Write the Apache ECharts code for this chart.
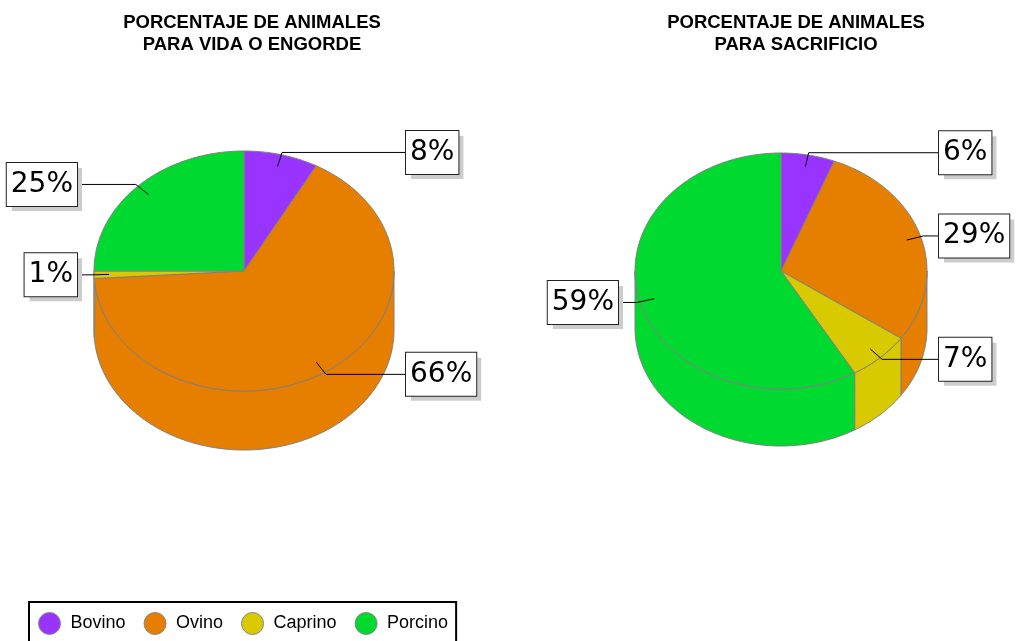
<!DOCTYPE html>
<html>
<head>
<meta charset="utf-8">
<script src="https://cdn.jsdelivr.net/npm/echarts@6/dist/echarts.min.js"></script>
<style>
  html, body { margin: 0; padding: 0; background: #fff; }
  #chart { width: 1016px; height: 641px; }
</style>
</head>
<body>
<div id="chart"></div>
<script>
// datos
const categories = ['Bovino', 'Ovino', 'Caprino', 'Porcino'];
const vidaValues = [8, 66, 1, 25];
const sacrificioValues = [6, 29, 7, 59];
const pieTitles = [
    'PORCENTAJE DE ANIMALES\nPARA VIDA O ENGORDE',
    'PORCENTAJE DE ANIMALES\nPARA SACRIFICIO',
];
const colors = ['#9933ff', '#e67e00', '#d9c900', '#00d92f'];

// geometria de cada "tarta" 3D (elipse + altura)
const pies = [
    { cx: 244, cy: 271, rx: 150, ry: 120, depth: 59, titleX: 252, values: vidaValues },
    { cx: 781, cy: 271, rx: 146, ry: 118, depth: 57, titleX: 796, values: sacrificioValues },
];

const EDGE = '#808080';

function pt(p, t, f, dy) {
    return [p.cx + p.rx * f * Math.sin(t), p.cy - p.ry * f * Math.cos(t) + (dy || 0)];
}

function arc(p, a0, a1, dy) {
    const n = Math.max(2, Math.ceil((a1 - a0) / (Math.PI / 180)));
    const pts = [];
    for (let i = 0; i <= n; i++) {
        pts.push(pt(p, a0 + (a1 - a0) * i / n, 1, dy));
    }
    return pts;
}

/**
 * dibuja un sector de la tarta 3D: pared frontal, cara superior y etiqueta
 */
function renderSlice(params, api) {
    const k = params.seriesIndex;
    const p = pies[api.value(0)];
    const total = p.values.reduce((a, b) => a + b, 0);
    const before = p.values.slice(0, k).reduce((a, b) => a + b, 0);
    const a0 = before / total * Math.PI * 2;
    const a1 = (before + api.value(1)) / total * Math.PI * 2;
    const color = colors[k];
    const children = [];

    // pared lateral (solo la mitad delantera)
    const s = Math.max(a0, Math.PI / 2);
    const e = Math.min(a1, Math.PI * 1.5);
    if (s < e) {
        const top = arc(p, s, e, 0);
        const bottom = arc(p, s, e, p.depth).reverse();
        children.push({
            type: 'polygon',
            z2: 1,
            shape: { points: top.concat(bottom) },
            style: { fill: color, stroke: EDGE, lineWidth: 1 },
        });
    }

    // cara superior
    children.push({
        type: 'polygon',
        z2: 2,
        shape: { points: [[p.cx, p.cy]].concat(arc(p, a0, a1, 0)) },
        style: { fill: color, stroke: EDGE, lineWidth: 1 },
    });

    // etiqueta con linea
    const mid = (a0 + a1) / 2;
    const anchor = pt(p, mid, 0.9);
    const elbow = pt(p, mid, 1.02);
    const side = Math.sin(mid) >= 0 ? 1 : -1;
    const boxX = p.cx + side * (p.rx + (side > 0 ? 12 : 17));
    children.push({
        type: 'polyline',
        z2: 3,
        shape: { points: [anchor, elbow, [boxX, elbow[1]]] },
        style: { stroke: '#000', lineWidth: 1, fill: null },
    });
    const text = api.value(1) + '%';
    const labelStyle = {
        text: text,
        fontSize: 28,
        fontFamily: 'DejaVu Sans',
        lineHeight: 33,
        padding: [5, 4, 5, 4],
        align: side > 0 ? 'left' : 'right',
        verticalAlign: 'middle',
    };
    children.push({
        type: 'text',
        z2: 4,
        x: boxX + 5,
        y: elbow[1] + 5,
        style: Object.assign({}, labelStyle, {
            fill: '#cccccc',
            backgroundColor: '#cccccc',
        }),
    });
    children.push({
        type: 'text',
        z2: 5,
        x: boxX,
        y: elbow[1],
        style: Object.assign({}, labelStyle, {
            fill: '#000',
            backgroundColor: '#fff',
            borderColor: '#222',
            borderWidth: 1,
        }),
    });

    return { type: 'group', children: children };
}

const chart = echarts.init(document.getElementById('chart'));

const option = {
    animation: false,
    backgroundColor: '#fff',
    title: pies.map((p, i) => ({
        text: pieTitles[i],
        left: p.titleX,
        top: 12,
        padding: 0,
        textAlign: 'center',
        textStyle: {
            fontSize: 18.5,
            fontWeight: 'bold',
            fontFamily: 'Liberation Sans',
            color: '#000',
            lineHeight: 22,
        },
    })),
    legend: {
        data: categories,
        selectedMode: false,
        orient: 'horizontal',
        left: 29,
        top: 602,
        padding: [10, 8, 12, 9],
        itemWidth: 22,
        itemHeight: 22,
        itemGap: 18,
        icon: 'circle',
        borderColor: '#000',
        borderWidth: 2,
        itemStyle: { borderColor: '#888', borderWidth: 1 },
        textStyle: {
            fontSize: 18,
            fontFamily: 'Liberation Sans',
            color: '#000',
            padding: [0, 0, 0, 5],
        },
    },
    series: categories.map((name, k) => ({
        name: name,
        type: 'custom',
        coordinateSystem: 'none',
        itemStyle: { color: colors[k] },
        renderItem: renderSlice,
        data: [[0, vidaValues[k]], [1, sacrificioValues[k]]],
    })),
};

chart.setOption(option);
</script>
</body>
</html>
